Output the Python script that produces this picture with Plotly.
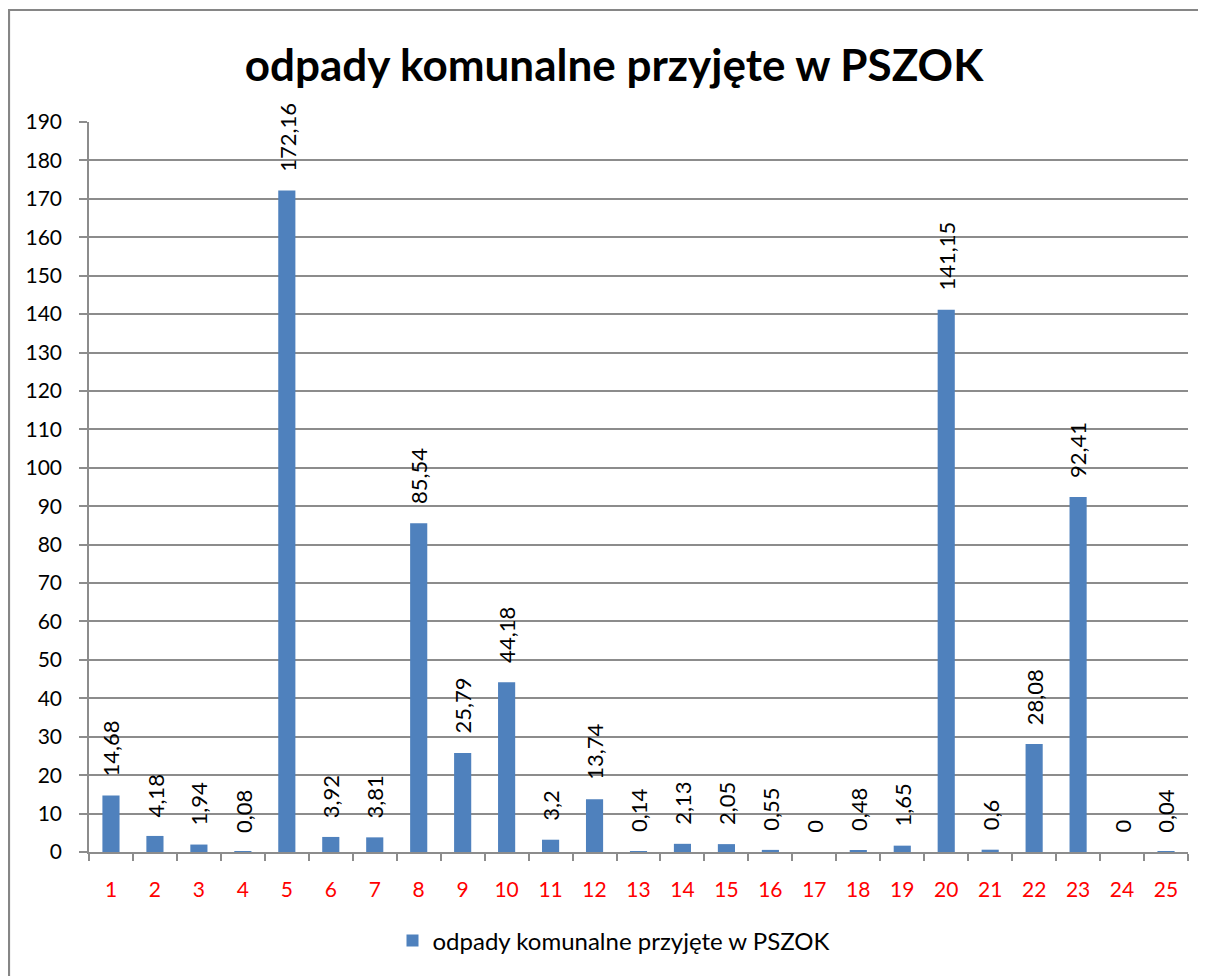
import plotly.graph_objects as go

categories = [str(i) for i in range(1, 26)]
values = [14.68, 4.18, 1.94, 0.08, 172.16, 3.92, 3.81, 85.54, 25.79, 44.18,
          3.2, 13.74, 0.14, 2.13, 2.05, 0.55, 0, 0.48, 1.65, 141.15,
          0.6, 28.08, 92.41, 0, 0.04]
series_name = "odpady komunalne przyjęte w PSZOK"
title_text = "odpady komunalne przyjęte w PSZOK"
y_ticks = list(range(0, 200, 10))

labels = [f"{v:g}".replace(".", ",") for v in values]

FONT = "Lato"
OFF = 8  # page body margin
W, H = 1206 - OFF, 976 - OFF
L, R, T, B = 89 - OFF, 1188 - OFF, 122 - OFF, 852 - OFF
pw, ph = R - L, B - T

fig = go.Figure()
fig.add_trace(go.Bar(
    x=categories, y=values, name=series_name,
    marker=dict(color="#4F81BD", line=dict(width=0)),
    cliponaxis=False,
))

# data labels: on a category axis annotations take the category index
for idx, (v, t) in enumerate(zip(values, labels)):
    fig.add_annotation(x=idx, y=v, text=t, textangle=-90, showarrow=False,
                       xanchor="center", yanchor="bottom", yshift=17,
                       font=dict(family=FONT, size=22, color="black"))

fig.update_layout(
    width=W, height=H,
    margin=dict(l=L, r=W - R, t=T, b=H - B),
    paper_bgcolor="white", plot_bgcolor="white",
    bargap=0.61,
    showlegend=True,
    title=dict(text="<b>" + title_text + "</b>", x=(614 - OFF) / W, xref="container",
               xanchor="center", y=1 - (66 - OFF) / H, yanchor="middle",
               font=dict(family=FONT, size=44, color="black")),
    legend=dict(orientation="h", x=(614 - OFF - L) / pw, xanchor="center",
                y=(B - (941 - OFF)) / ph, yanchor="middle",
                font=dict(family=FONT, size=24, color="black")),
)

fig.update_yaxes(
    range=[0, 190], tickvals=y_ticks, ticktext=[str(t) for t in y_ticks],
    showgrid=True, gridcolor="#8C8C8C", gridwidth=1.5,
    showline=True, linecolor="#8C8C8C", linewidth=1.5,
    ticks="outside", ticklen=8, tickcolor="#8C8C8C", tickwidth=1.5,
    ticklabelstandoff=13,
    tickfont=dict(family=FONT, size=21, color="black"),
    zeroline=False,
)
fig.update_xaxes(
    type="category",
    range=[-0.5, len(categories) - 0.5],
    showline=True, linecolor="#8C8C8C", linewidth=1.5,
    ticks="outside", ticklen=7, tickcolor="#8C8C8C", tickwidth=1.5,
    tickson="boundaries",
    ticklabelstandoff=18,
    tickfont=dict(family=FONT, size=21, color="#FF0000"),
    showgrid=False,
)

fig.add_shape(type="rect", xref="paper", yref="paper",
              x0=(1 - L) / pw, x1=(1230 - L) / pw,
              y0=(B - 1010) / ph, y1=(B - (10 - OFF)) / ph,
              line=dict(color="#868686", width=2.2), fillcolor="rgba(0,0,0,0)", layer="above")

fig.write_html("out.html")
